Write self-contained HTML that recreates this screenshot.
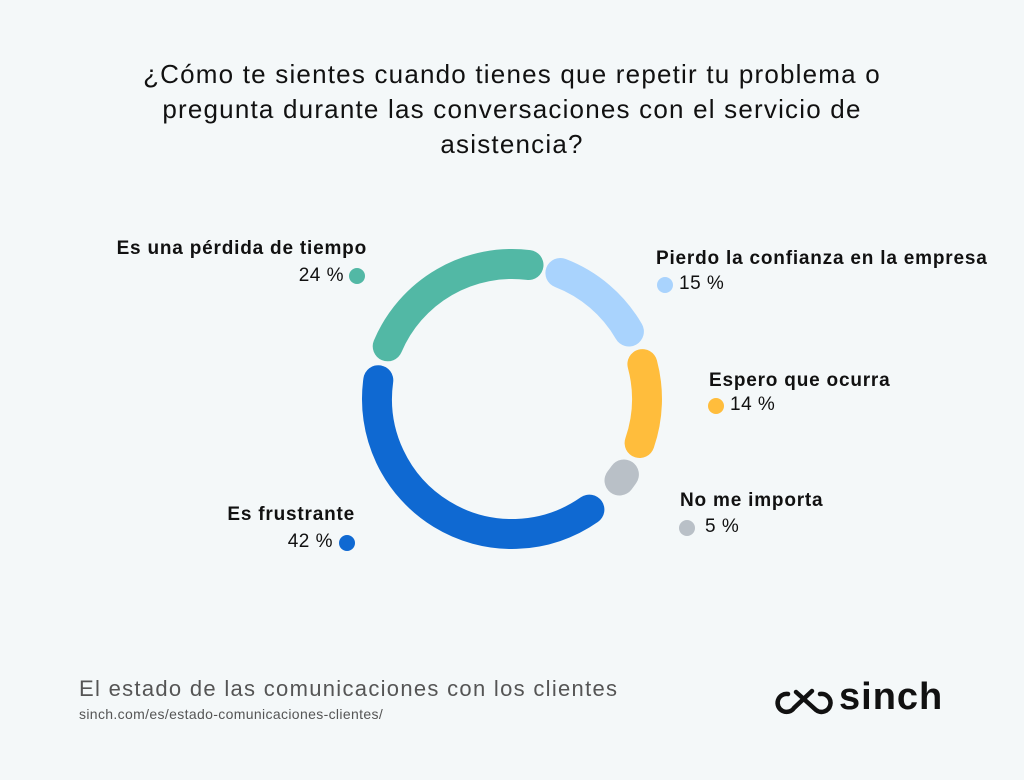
<!DOCTYPE html>
<html><head><meta charset="utf-8"><style>
html,body{margin:0;padding:0}
body{width:1024px;height:780px;background:#f4f8f9;font-family:"Liberation Sans",sans-serif;color:#111;position:relative;overflow:hidden}
.t{position:absolute;left:0;width:1024px;text-align:center;top:57px;font-size:26px;letter-spacing:1.2px;line-height:35px;color:#111}
.a{position:absolute;font-size:19px;white-space:nowrap;letter-spacing:0.5px}
.b{font-weight:bold;letter-spacing:0.8px}
.d{position:absolute;width:16px;height:16px;border-radius:50%}
</style></head><body>
<div class="t">¿Cómo te sientes cuando tienes que repetir tu problema o<br>pregunta durante las conversaciones con el servicio de<br>asistencia?</div>
<svg width="1024" height="780" style="position:absolute;left:0;top:0" fill="none" stroke-width="30" stroke-linecap="round">
<path d="M387.7 346.3 A135 135 0 0 1 528.5 265" stroke="#52b8a5"/>
<path d="M560.4 273 A135 135 0 0 1 628.9 331.5" stroke="#a9d3fd"/>
<path d="M642.4 364.1 A135 135 0 0 1 639.6 443" stroke="#ffbd3c"/>
<path d="M623.9 474.5 A135 135 0 0 1 619.5 480.5" stroke="#b9c0c7"/>
<path d="M589.4 509.6 A135 135 0 0 1 378.3 380.2" stroke="#0f69d2"/>
</svg>
<div class="a b" style="right:657px;top:238px">Es una pérdida de tiempo</div>
<div class="a" style="right:680px;top:265px">24 %</div><div class="d" style="left:349px;top:268px;background:#52b8a5"></div>
<div class="a b" style="left:656px;top:248px">Pierdo la confianza en la empresa</div>
<div class="d" style="left:657px;top:277px;background:#a9d3fd"></div><div class="a" style="left:679px;top:273px">15 %</div>
<div class="a b" style="left:709px;top:370px">Espero que ocurra</div>
<div class="d" style="left:708px;top:398px;background:#ffbd3c"></div><div class="a" style="left:730px;top:394px">14 %</div>
<div class="a b" style="left:680px;top:490px">No me importa</div>
<div class="d" style="left:679px;top:520px;background:#b9c0c7"></div><div class="a" style="left:705px;top:516px">5 %</div>
<div class="a b" style="right:669px;top:504px">Es frustrante</div>
<div class="a" style="right:691px;top:531px">42 %</div><div class="d" style="left:339px;top:535px;background:#0f69d2"></div>
<div class="a" style="left:79px;top:676px;font-size:22px;letter-spacing:1.3px;color:#555">El estado de las comunicaciones con los clientes</div>
<div class="a" style="left:79px;top:706px;font-size:14px;letter-spacing:0.35px;color:#555">sinch.com/es/estado-comunicaciones-clientes/</div>
<svg width="70" height="40" style="position:absolute;left:772px;top:682px" fill="none" stroke="#111" stroke-width="4.5" stroke-linecap="round">
<path d="M16 12 A9 9 0 1 0 22 26 L40 9 M24 10 L44 28 A9 9 0 1 0 48 12"/>
</svg>
<div class="a b" style="left:839px;top:676px;font-size:38px;letter-spacing:1px;color:#111">sinch</div>
</body></html>
